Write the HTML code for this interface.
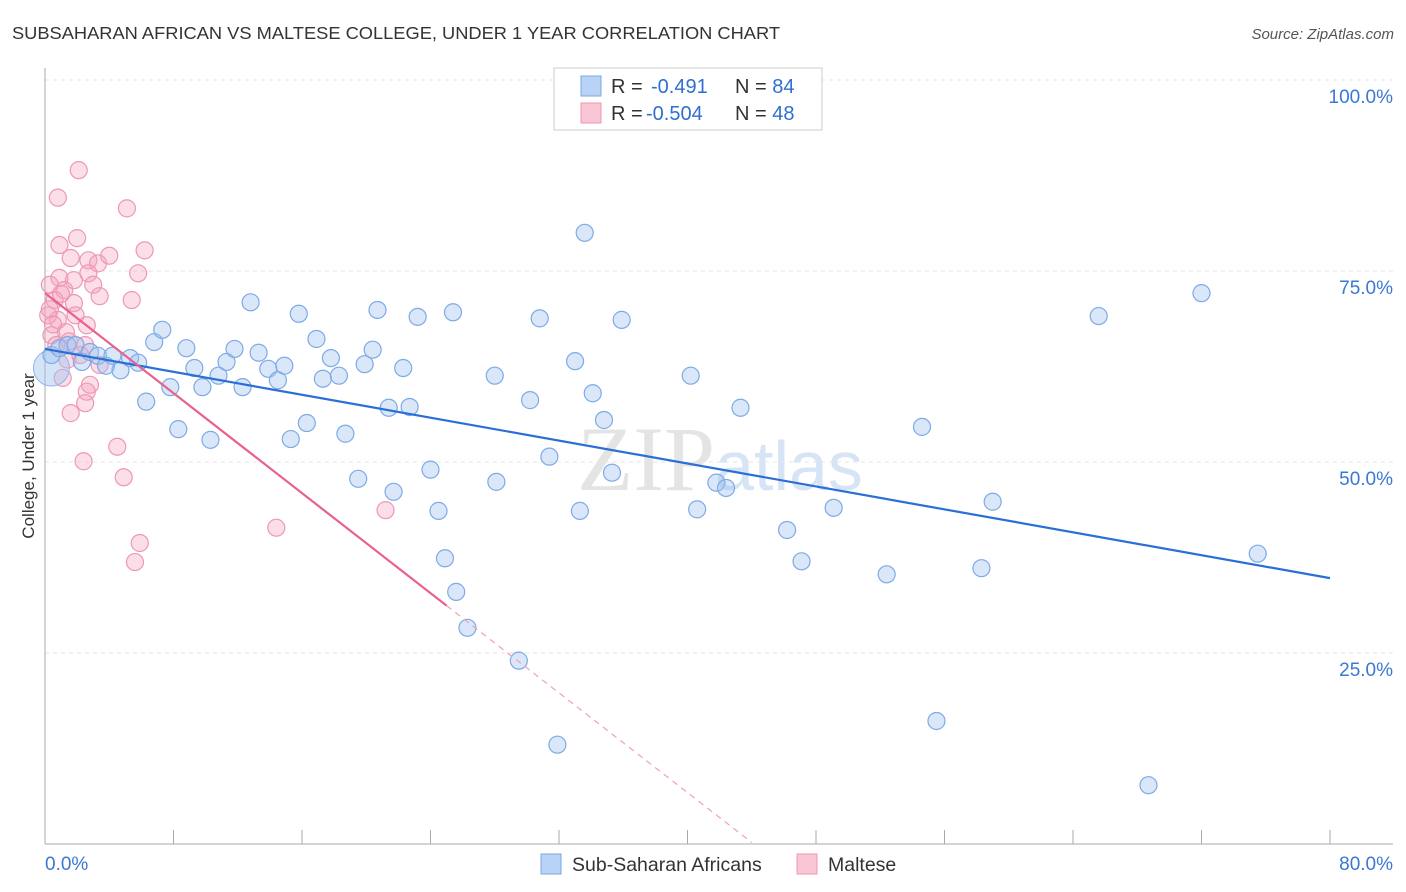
<!DOCTYPE html>
<html><head><meta charset="utf-8"><style>
body{margin:0;background:#fff;font-family:"Liberation Sans",sans-serif}
svg{display:block}
</style></head><body>
<svg id="c" width="1406" height="892" viewBox="0 0 1406 892">
<text x="12" y="39" font-size="17.5" fill="#333" textLength="768" lengthAdjust="spacingAndGlyphs">SUBSAHARAN AFRICAN VS MALTESE COLLEGE, UNDER 1 YEAR CORRELATION CHART</text>
<text x="1394" y="39" font-size="15" fill="#555" font-style="italic" text-anchor="end">Source: ZipAtlas.com</text>
<text x="720" y="490" font-size="92" fill="#e4e4e4" text-anchor="middle" font-family="Liberation Serif,serif">ZIP<tspan fill="#d6e4f5" font-family="Liberation Sans,sans-serif" font-size="70">atlas</tspan></text>
<g id="grid"></g>
<g id="axes"></g>
<g id="pts"></g>
<g id="lines"></g>
<text transform="translate(34,456) rotate(-90)" font-size="17" fill="#333" text-anchor="middle">College, Under 1 year</text>
<g>
<rect x="554" y="68" width="268" height="62" fill="#fff" stroke="#ccc"/>
<rect x="581" y="76" width="20" height="20" fill="#b8d3f5" stroke="#7aa8e6"/>
<rect x="581" y="103" width="20" height="20" fill="#f9c6d6" stroke="#ef97b3"/>
<text x="611" y="93" font-size="20" fill="#333">R = <tspan x="651" fill="#2f6fd0">-0.491</tspan><tspan x="735">N = </tspan><tspan fill="#2f6fd0">84</tspan></text>
<text x="611" y="120" font-size="20" fill="#333">R = <tspan x="646" fill="#2f6fd0">-0.504</tspan><tspan x="735">N = </tspan><tspan fill="#2f6fd0">48</tspan></text>
</g>
<g>
<rect x="541" y="854" width="20" height="20" fill="#b8d3f5" stroke="#7aa8e6"/>
<text x="572" y="871" font-size="19.5" fill="#333">Sub-Saharan Africans</text>
<rect x="797" y="854" width="20" height="20" fill="#f9c6d6" stroke="#ef97b3"/>
<text x="828" y="871" font-size="19.5" fill="#333">Maltese</text>
</g>
</svg>
<script>
const yTicks=[25,50,75,100];
const yTickLabels=["25.0%","50.0%","75.0%","100.0%"];
const xTickCount=10;
const blueX=[0.4,0.9,1.4,1.9,2.3,2.8,3.3,3.8,4.2,4.7,5.3,5.8,6.3,6.8,7.3,7.8,8.3,8.8,9.3,9.8,10.3,10.8,11.3,11.8,12.3,12.8,13.3,13.9,14.5,14.9,15.3,15.8,16.3,16.9,17.3,17.8,18.3,18.7,19.5,19.9,20.4,20.7,21.4,21.7,22.3,22.7,23.2,24.0,24.5,24.9,25.4,25.6,26.3,28.0,28.1,29.5,30.2,30.8,31.4,31.9,33.0,33.3,33.6,34.1,34.8,35.3,35.9,40.2,40.6,41.8,42.4,43.3,46.2,47.1,49.1,52.4,54.6,55.5,58.3,59.0,65.6,68.7,72.0,75.5];
const blueY=[64.0,64.9,65.3,65.3,63.1,64.4,63.9,62.6,63.9,62.0,63.6,63.0,57.9,65.7,67.3,59.8,54.3,64.9,62.3,59.8,52.9,61.3,63.1,64.8,59.8,70.9,64.3,62.2,60.7,62.6,53.0,69.4,55.1,66.1,60.9,63.6,61.3,53.7,47.8,62.8,64.7,69.9,57.1,46.1,62.3,57.2,69.0,49.0,43.6,37.4,69.6,33.0,28.3,61.3,47.4,24.0,58.1,68.8,50.7,13.0,63.2,43.6,80.0,59.0,55.5,48.6,68.6,61.3,43.8,47.3,46.6,57.1,41.1,37.0,44.0,35.3,54.6,16.1,36.1,44.8,69.1,7.7,72.1,38.0];
const pinkX=[2.1,0.8,5.1,0.9,2.0,1.6,2.7,3.3,4.0,6.2,5.8,2.7,1.8,0.9,0.3,1.2,3.0,3.4,1.8,5.4,0.6,0.2,0.8,1.9,2.6,1.3,0.4,0.7,2.5,1.4,1.1,2.8,2.6,2.5,1.6,4.5,2.4,4.9,14.4,21.2,5.9,5.6,3.4,0.3,1.0,0.5,1.5,2.2];
const pinkY=[88.2,84.6,83.2,78.4,79.3,76.7,76.4,76.0,77.0,77.7,74.7,74.7,73.8,74.1,73.2,72.5,73.2,71.7,70.8,71.2,71.2,69.2,68.6,69.2,67.9,67.0,66.6,65.3,65.3,63.4,61.0,60.1,59.2,57.7,56.4,52.0,50.1,48.0,41.4,43.7,39.4,36.9,62.7,70.0,72.0,68.0,65.8,64.0];
const blueTrend=[0,64.8,80,34.8];
const pinkTrend=[0,72.1,25,31.2];
const pinkDash=[25,31.2,44,0.2];
const X=v=>45+v/80*1285, Y=v=>844-v/100*764;
const NS="http://www.w3.org/2000/svg";
function mk(t,a,p){const e=document.createElementNS(NS,t);for(const k in a)e.setAttribute(k,a[k]);document.getElementById(p).appendChild(e);return e;}
yTicks.forEach((t,i)=>{
 const l=mk('line',{x1:45,x2:1393,y1:Y(t),y2:Y(t),stroke:'#e6e6e6','stroke-dasharray':'4,4'},'grid');
 
 
 const tx=mk('text',{x:1393,y:Y(t)+23,'font-size':19,fill:'#3a78d4','text-anchor':'end'},'grid');
 tx.textContent=yTickLabels[i];
 
 
});
let a=mk('line',{x1:45,x2:45,y1:68,y2:844,stroke:'#aaa'},'axes');


a=mk('line',{x1:45,x2:1393,y1:844,y2:844,stroke:'#aaa'},'axes');


for(let i=1;i<=xTickCount;i++){const v=i*8;const t=mk('line',{x1:X(v),x2:X(v),y1:830,y2:844,stroke:'#aaa'},'axes');
 
 }
let xl=mk('text',{x:45,y:870,'font-size':19,fill:'#3a78d4'},'axes');xl.textContent='0.0%';


xl=mk('text',{x:1393,y:870,'font-size':19,fill:'#3a78d4','text-anchor':'end'},'axes');xl.textContent='80.0%';


pinkX.forEach((v,i)=>{const c=mk('circle',{cx:X(v),cy:Y(pinkY[i]),r:8.5,fill:'rgba(244,160,188,0.35)',stroke:'#ee98b4','stroke-width':1.2},'pts');
 
 });
const big=mk('circle',{cx:X(0.4),cy:Y(62.3),r:18,fill:'rgba(160,196,240,0.45)',stroke:'#8cb4ea'},'pts');


blueX.forEach((v,i)=>{const c=mk('circle',{cx:X(v),cy:Y(blueY[i]),r:8.5,fill:'rgba(160,196,240,0.4)',stroke:'#7eaae6','stroke-width':1.2},'pts');
 
 });
let l=mk('line',{x1:X(blueTrend[0]),y1:Y(blueTrend[1]),x2:X(blueTrend[2]),y2:Y(blueTrend[3]),stroke:'#2a6fd6','stroke-width':2.2},'lines');


l=mk('line',{x1:X(pinkTrend[0]),y1:Y(pinkTrend[1]),x2:X(pinkTrend[2]),y2:Y(pinkTrend[3]),stroke:'#e8628e','stroke-width':2.2},'lines');


l=mk('line',{x1:X(pinkDash[0]),y1:Y(pinkDash[1]),x2:X(pinkDash[2]),y2:Y(pinkDash[3]),stroke:'#eea0b8','stroke-width':1.2,'stroke-dasharray':'6,5'},'lines');


</script>
</body></html>
